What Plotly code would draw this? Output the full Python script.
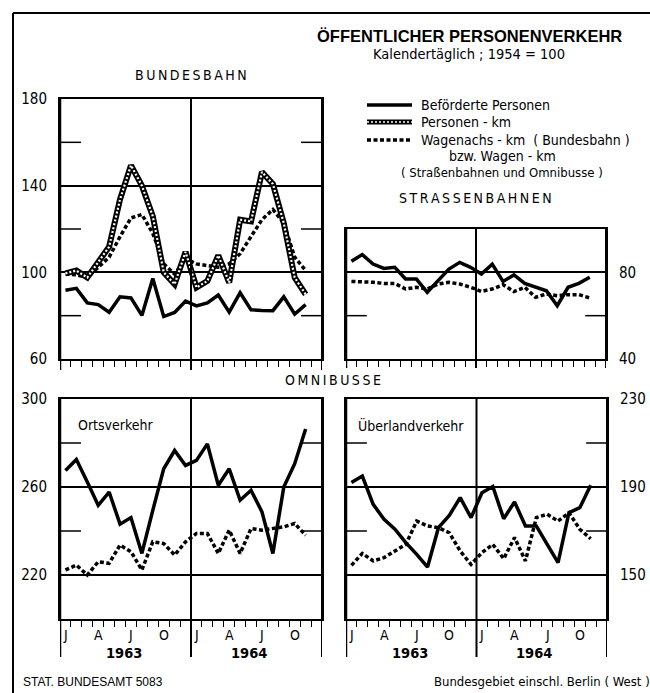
import plotly.graph_objects as go

W, H = 650, 693
FONT = "Liberation Sans Narrow, DejaVu Sans Condensed, Arial Narrow, sans-serif"
FONTB = "Liberation Sans, Arial, sans-serif"

months = ["1963-01", "1963-02", "1963-03", "1963-04", "1963-05", "1963-06", "1963-07", "1963-08",
          "1963-09", "1963-10", "1963-11", "1963-12", "1964-01", "1964-02", "1964-03", "1964-04",
          "1964-05", "1964-06", "1964-07", "1964-08", "1964-09", "1964-10", "1964-11"]
month_letters = ["J", "A", "J", "O", "J", "A", "J", "O"]
month_letter_idx = [0, 3, 6, 9, 12, 15, 18, 21]
years = ["1963", "1964"]

# Bundesbahn
bb_personen = [91.7, 92.6, 85.9, 85.1, 81.6, 88.7, 88.2, 80.1, 97.2, 79.6, 81.5, 86.7,
               84.5, 85.9, 89.5, 81.6, 90.6, 82.7, 82.4, 82.3, 88.7, 80.7, 85.1]
bb_pkm = [99.5, 100.8, 97.6, 105.0, 111.8, 133.7, 149.4, 140.0, 125.9, 100.0, 94.5, 109.4,
          93.0, 96.0, 107.8, 95.3, 124.3, 123.5, 146.3, 140.8, 122.7, 97.6, 89.8]
bb_wagen = [99.2, 98.9, 97.6, 102.4, 107.0, 116.5, 125.1, 126.7, 118.0, 103.9, 99.2, 106.3,
            103.9, 103.1, 102.4, 103.9, 108.6, 116.5, 124.3, 129.0, 122.7, 107.0, 100.8]
# Strassenbahnen
sb_personen = [85.1, 88.2, 83.8, 81.8, 82.3, 76.9, 76.9, 70.8, 76.2, 81.5, 84.6, 82.3,
               79.2, 83.8, 75.8, 78.8, 74.9, 73.1, 71.5, 64.6, 73.1, 74.9, 77.7]
sb_wagen = [75.8, 75.8, 75.4, 74.9, 74.9, 72.3, 73.1, 72.3, 74.6, 75.4, 74.6, 73.1,
            71.2, 72.3, 74.3, 71.1, 73.1, 68.5, 70.0, 69.2, 69.7, 69.7, 68.2]
# Omnibusse Ortsverkehr
ort_personen = [267.5, 272.5, 262.3, 251.7, 257.7, 243.1, 246.1, 229.8, 249.4, 268.3, 276.6, 269.8,
                272.1, 279.6, 260.8, 268.3, 254.0, 258.5, 248.7, 229.8, 260.0, 270.6, 286.4]
ort_wagen = [222.3, 224.5, 220.0, 226.0, 225.3, 233.6, 230.6, 222.3, 235.1, 234.3, 229.1, 235.1,
             238.9, 238.9, 229.8, 240.4, 229.8, 241.1, 240.4, 241.1, 241.9, 243.4, 238.1]
# Omnibusse Ueberlandverkehr
ueb_personen = [192.0, 195.0, 182.1, 175.3, 170.8, 164.7, 159.4, 153.6, 171.5, 177.1, 185.2, 176.1,
                187.4, 190.2, 175.6, 183.2, 172.3, 172.3, 163.9, 155.6, 178.3, 180.6, 190.8]
ueb_wagen = [154.4, 159.8, 156.4, 157.9, 160.9, 163.9, 174.5, 172.3, 171.5, 169.2, 160.9, 154.8,
             160.2, 163.9, 157.4, 167.0, 156.4, 176.1, 177.6, 174.5, 178.3, 170.8, 166.5]

xpos = [i + 0.5 for i in range(len(months))]

def px(x):
    return x / W

def py(y):
    return 1 - y / H

fig = go.Figure()

SOLID = dict(color="black", width=3.5)
DASH = dict(color="black", width=3.5, dash="4px,2.5px")

def add(xa, ya, vals, style):
    fig.add_trace(go.Scatter(x=xpos, y=vals, xaxis=xa, yaxis=ya, mode="lines",
                             line=style, showlegend=False, hoverinfo="skip"))

def add_hatched(xa, ya, vals):
    add(xa, ya, vals, dict(color="black", width=6))
    add(xa, ya, vals, dict(color="white", width=2.2, dash="2px,2px"))

add("x", "y", bb_wagen, DASH)
add_hatched("x", "y", bb_pkm)
add("x", "y", bb_personen, SOLID)
add("x2", "y2", sb_wagen, DASH)
add("x2", "y2", sb_personen, SOLID)
add("x3", "y3", ort_wagen, DASH)
add("x3", "y3", ort_personen, SOLID)
add("x4", "y4", ueb_wagen, DASH)
add("x4", "y4", ueb_personen, SOLID)

panels = {
    "": dict(dx=(60, 322), dy=(99, 359), rng=[60, 180], tv=[60, 100, 140, 180], side="left",
             stubs=[80, 120, 160], ext=11),
    "2": dict(dx=(346, 606), dy=(229, 359), rng=[40, 100], tv=[40, 80], side="right",
              stubs=[60], ext=9),
    "3": dict(dx=(60, 322), dy=(399, 619), rng=[200, 300], tv=[220, 260, 300], side="left",
              stubs=[240, 280], ext=38),
    "4": dict(dx=(346, 607), dy=(399, 619), rng=[130, 230], tv=[150, 190, 230], side="right",
              stubs=[170, 210], ext=38),
}

layout = dict(width=W, height=H, margin=dict(l=0, r=0, t=0, b=0, pad=0), autosize=False,
              paper_bgcolor="white", plot_bgcolor="white", showlegend=False,
              font=dict(family=FONT, color="black"))
shapes = []
annotations = []

for k, p in panels.items():
    xk, yk = "xaxis" + k, "yaxis" + k
    xr, yr = ("x", "y") if k == "" else ("x" + k, "y" + k)
    layout[xk] = dict(domain=[px(p["dx"][0]), px(p["dx"][1])], range=[0, 24], anchor=yr,
                      automargin=False,
                      showgrid=False, zeroline=False, showline=True, linecolor="black",
                      linewidth=2, mirror=True, ticks="outside", ticklen=6, tickwidth=1.3,
                      tickcolor="black", tickvals=list(range(1, 24)), showticklabels=False)
    layout[yk] = dict(domain=[py(p["dy"][1]), py(p["dy"][0])], range=p["rng"], anchor=xr,
                      automargin=False,
                      side=p["side"], showgrid=True, gridcolor="black", gridwidth=1.5,
                      zeroline=False, showline=True, linecolor="black", linewidth=2,
                      mirror=True, ticks="", tickvals=p["tv"],
                      tickfont=dict(family=FONT, size=15, color="black"),
                      ticklabelstandoff=8)
    hgt = p["dy"][1] - p["dy"][0]
    ext = p["ext"] / hgt
    for xv, w in [(0, 2.5), (12, 2), (24, 2)]:
        shapes.append(dict(type="line", xref=xr, yref=yr + " domain", x0=xv, x1=xv,
                           y0=-ext, y1=1, line=dict(color="black", width=w)))
    for s in p["stubs"]:
        for a, b in [(0, 0.08), (0.92, 1)]:
            shapes.append(dict(type="line", xref=xr + " domain", yref=yr, x0=a, x1=b,
                               y0=s, y1=s, line=dict(color="black", width=1.5)))

# month letters and years on bottom panels
for xr, yr in [("x3", "y3"), ("x4", "y4")]:
    for lab, idx in zip(month_letters, month_letter_idx):
        annotations.append(dict(xref=xr, yref=yr + " domain", x=idx + 0.5, y=-16 / 220,
                                text=lab, showarrow=False, yanchor="middle",
                                font=dict(family=FONT, size=14)))
    for yrlab, xc in zip(years, [5.9, 17.3]):
        annotations.append(dict(xref=xr, yref=yr + " domain", x=xc, y=-34 / 220,
                                text="<b>" + yrlab + "</b>", showarrow=False, yanchor="middle",
                                font=dict(family=FONT, size=14.5)))

def txt(x, y, text, size=14, family=FONT, xanchor="center"):
    annotations.append(dict(xref="paper", yref="paper", x=px(x), y=py(y), text=text,
                            showarrow=False, xanchor=xanchor, yanchor="middle",
                            font=dict(family=family, size=size, color="black")))

HS = "\u2009"
txt(469, 36, "<b>ÖFFENTLICHER PERSONENVERKEHR</b>", size=16.5, family=FONTB)
txt(469, 54, "Kalendertäglich ; 1954 = 100", size=14.5)
txt(191, 75, HS.join("BUNDESBAHN"), size=14)
txt(475, 198, HS.join("STRASSENBAHNEN"), size=14)
txt(333, 380, HS.join("OMNIBUSSE"), size=14)
txt(76, 425, "Ortsverkehr", size=14, xanchor="left")
txt(356, 425, "Überlandverkehr", size=14, xanchor="left")
txt(21, 682, "STAT. BUNDESAMT 5083", size=12, family=FONTB, xanchor="left")
txt(542, 681, "Bundesgebiet einschl. Berlin ( West )", size=13)

# legend
leg_x0, leg_x1, tx = 367, 412, 419
txt(tx, 105, "Beförderte Personen", size=14, xanchor="left")
txt(tx, 122, "Personen - km", size=14, xanchor="left")
txt(tx, 140, "Wagenachs - km  ( Bundesbahn )", size=14, xanchor="left")
txt(502, 156, "bzw. Wagen - km", size=14)
txt(502, 172, "( Straßenbahnen und Omnibusse )", size=13)
shapes.append(dict(type="line", xref="paper", yref="paper", x0=px(leg_x0), x1=px(leg_x1),
                   y0=py(105), y1=py(105), line=dict(color="black", width=3.5)))
shapes.append(dict(type="line", xref="paper", yref="paper", x0=px(leg_x0), x1=px(leg_x1),
                   y0=py(122), y1=py(122), line=dict(color="black", width=5)))
shapes.append(dict(type="line", xref="paper", yref="paper", x0=px(leg_x0), x1=px(leg_x1),
                   y0=py(122), y1=py(122), line=dict(color="white", width=1.6, dash="2px,2px")))
shapes.append(dict(type="line", xref="paper", yref="paper", x0=px(leg_x0), x1=px(leg_x1),
                   y0=py(140), y1=py(140), line=dict(color="black", width=3.5, dash="4px,2.5px")))

# outer frame
shapes.append(dict(type="line", xref="paper", yref="paper", x0=px(13), x1=1, y0=py(13), y1=py(13),
                   line=dict(color="black", width=2)))
shapes.append(dict(type="line", xref="paper", yref="paper", x0=px(13), x1=px(13), y0=py(13), y1=0,
                   line=dict(color="black", width=2)))

layout["shapes"] = shapes
layout["annotations"] = annotations
fig.update_layout(**layout)
fig.write_html("out.html", config={"displayModeBar": False},
               post_script="document.body.style.margin='0px';document.body.style.overflow='hidden';")
